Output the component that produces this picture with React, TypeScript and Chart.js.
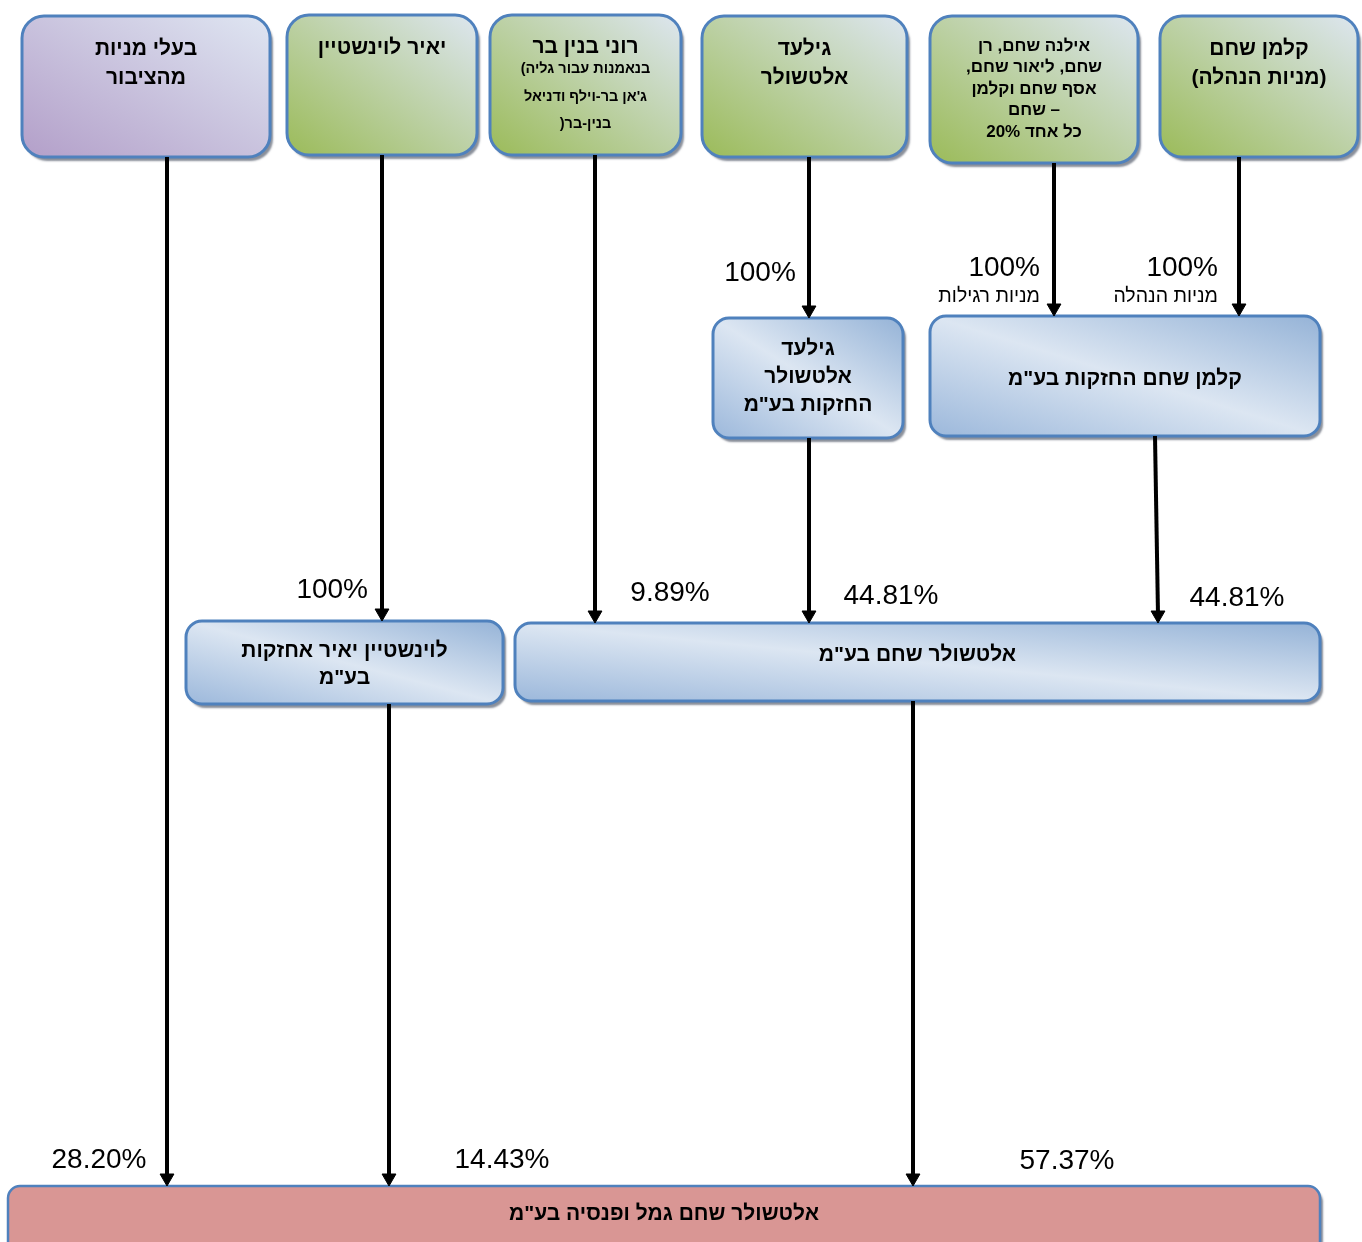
import React, { useEffect, useRef } from "react";
import { Chart, registerables } from "chart.js";

Chart.register(...registerables);

// ---------- diagram data ----------
// entity names (one array of lines per node)
const nodeNames: string[][] = [
  ["בעלי מניות", "מהציבור"],
  ["יאיר לוינשטיין"],
  ["רוני בנין בר", "בנאמנות עבור גליה)", "ג'אן בר-וילף ודניאל", "בנין-בר("],
  ["גילעד", "אלטשולר"],
  ["אילנה שחם, רן", "שחם, ליאור שחם,", "אסף שחם וקלמן", "– שחם", "כל אחד 20%"],
  ["קלמן שחם", "(מניות הנהלה)"],
  ["גילעד", "אלטשולר", 'החזקות בע"מ'],
  ['קלמן שחם החזקות בע"מ'],
  ["לוינשטיין יאיר אחזקות", 'בע"מ'],
  ['אלטשולר שחם בע"מ'],
  ['אלטשולר שחם גמל ופנסיה בע"מ'],
];
const nodeKind = ["public", "person", "person", "person", "person", "person", "company", "company", "company", "company", "target"];

// node extents in diagram units
const nodeLeft = [22, 287, 490, 702, 930, 1160, 713, 930, 186, 515, 8];
const nodeRight = [270, 477, 681, 907, 1138, 1358, 903, 1320, 503, 1320, 1320];
const nodeTop = [16, 15, 15, 16, 16, 16, 318, 316, 621, 623, 1186];
const nodeBottom = [157, 155, 155, 157, 163, 157, 438, 436, 704, 701, 1256];

// ownership links
const edgeFrom = [0, 1, 2, 3, 4, 5, 6, 7, 8, 9];
const edgeTo = [10, 8, 9, 6, 7, 7, 9, 9, 10, 10];
const edgeXStart = [167, 382, 595, 809, 1054, 1239, 809, 1155, 389, 913];
const edgeXEnd = [167, 382, 595, 809, 1054, 1239, 809, 1158, 389, 913];
const ownershipPct = ["28.20%", "100%", "9.89%", "100%", "100%", "100%", "44.81%", "44.81%", "14.43%", "57.37%"];
const shareClass = ["", "", "", "", "מניות רגילות", "מניות הנהלה", "", "", "", ""];

// ---------- presentation ----------
const pctLabelX = [99, 368, 670, 760, 1040, 1218, 891, 1237, 502, 1067];
const pctLabelY = [1160, 590, 593, 273, 268, 268, 596, 598, 1160, 1161];
const pctLabelAlign: CanvasTextAlign[] = ["center", "right", "center", "center", "right", "right", "center", "center", "center", "center"];
const nodeTextY = [49, 48, 47, 49, 46, 49, 349, 379, 651, 655, 1214];
const nodeLineGap = [29, 29, 0, 29, 21.5, 29, 28, 0, 27, 0, 0];
const roniLineY = [47, 69, 97, 124];
const FONT = '"Liberation Sans", Arial, sans-serif';
const ARROW_R = 8;

function nodeFontSize(i: number, line: number): number {
  if (i === 2) return line === 0 ? 21 : 14.5;
  if (i === 4) return 17;
  return 21;
}

const boxesPlugin = {
  id: "boxes",
  beforeDatasetsDraw(chart: any) {
    const { ctx } = chart;
    const xs = chart.scales.x;
    const ys = chart.scales.y;
    nodeNames.forEach((_, i) => {
      const x0 = xs.getPixelForValue(nodeLeft[i]);
      const x1 = xs.getPixelForValue(nodeRight[i]);
      const y0 = ys.getPixelForValue(nodeTop[i]);
      const y1 = ys.getPixelForValue(nodeBottom[i]);
      const w = x1 - x0;
      const h = y1 - y0;
      const kind = nodeKind[i];
      const r = kind === "company" ? 16 : kind === "target" ? 12 : 22;
      const cx = (x0 + x1) / 2;
      const cy = (y0 + y1) / 2;
      const len = Math.sqrt(w * w + h * h);
      const nx = h / len;
      const ny = -w / len;
      const L = (w * h) / len;
      let fill: any;
      if (kind === "target") {
        fill = "#d99694";
      } else {
        const g = ctx.createLinearGradient(cx + nx * L, cy + ny * L, cx - nx * L, cy - ny * L);
        if (kind === "public") {
          g.addColorStop(0, "#dfe6f2");
          g.addColorStop(1, "#b39fc9");
        } else if (kind === "person") {
          g.addColorStop(0, "#dde6f0");
          g.addColorStop(1, "#9bbb59");
        } else {
          g.addColorStop(0, "#95b3d7");
          g.addColorStop(0.5, "#dce6f2");
          g.addColorStop(1, "#9cb8db");
        }
        fill = g;
      }
      ctx.save();
      ctx.beginPath();
      ctx.roundRect(x0, y0, w, h, r);
      ctx.shadowColor = "rgba(40,50,70,0.55)";
      ctx.shadowOffsetX = 3;
      ctx.shadowOffsetY = 4;
      ctx.shadowBlur = 2;
      ctx.fillStyle = fill;
      ctx.fill();
      ctx.shadowColor = "transparent";
      ctx.lineWidth = kind === "target" ? 2.5 : 3;
      ctx.strokeStyle = "#4f81bd";
      ctx.stroke();
      ctx.restore();
    });
  },
  afterDatasetsDraw(chart: any) {
    const { ctx } = chart;
    const xs = chart.scales.x;
    const ys = chart.scales.y;
    ctx.save();
    ctx.fillStyle = "#000";
    ctx.textBaseline = "middle";
    // node texts
    nodeNames.forEach((lines, i) => {
      const cx = xs.getPixelForValue((nodeLeft[i] + nodeRight[i]) / 2);
      lines.forEach((t, k) => {
        const yv = i === 2 ? roniLineY[k] : nodeTextY[i] + k * nodeLineGap[i];
        ctx.font = `bold ${nodeFontSize(i, k)}px ${FONT}`;
        ctx.direction = "rtl";
        ctx.textAlign = "center";
        ctx.fillText(t, cx, ys.getPixelForValue(yv));
      });
    });
    // percentage labels
    ownershipPct.forEach((p, j) => {
      ctx.direction = "ltr";
      ctx.font = `28px ${FONT}`;
      ctx.textAlign = pctLabelAlign[j];
      ctx.fillText(p, xs.getPixelForValue(pctLabelX[j]), ys.getPixelForValue(pctLabelY[j]));
      if (shareClass[j]) {
        ctx.font = `19.5px ${FONT}`;
        ctx.direction = "ltr";
        ctx.textAlign = "right";
        ctx.fillText(shareClass[j], xs.getPixelForValue(pctLabelX[j]), ys.getPixelForValue(pctLabelY[j] + 29));
      }
    });
    ctx.restore();
  },
};

export default function App() {
  const ref = useRef<HTMLCanvasElement | null>(null);
  useEffect(() => {
    document.body.style.margin = "0";
    if (!ref.current) return;
    const datasets = edgeFrom.map((f, j) => ({
      data: [
        { x: edgeXStart[j], y: nodeBottom[f] },
        { x: edgeXEnd[j], y: nodeTop[edgeTo[j]] - ARROW_R },
      ],
      showLine: true,
      borderColor: "#000",
      borderWidth: 4,
      pointRadius: [0, ARROW_R],
      pointStyle: "triangle",
      pointRotation: 180,
      pointBackgroundColor: "#000",
      pointBorderColor: "#000",
      pointBorderWidth: 1,
      clip: false,
    }));
    const chart = new Chart(ref.current, {
      type: "scatter",
      data: { datasets: datasets as any },
      options: {
        animation: false,
        responsive: false,
        maintainAspectRatio: false,
        devicePixelRatio: 1,
        events: [],
        layout: { padding: 0, autoPadding: false },
        plugins: { legend: { display: false }, tooltip: { enabled: false } },
        scales: {
          x: { type: "linear", min: 0, max: 1362, display: false },
          y: { type: "linear", min: 0, max: 1242, reverse: true, display: false },
        },
      },
      plugins: [boxesPlugin],
    });
    return () => chart.destroy();
  }, []);
  return (
    <div style={{ position: "absolute", left: 0, top: 0, width: 1362, height: 1242, background: "#fff" }}>
      <canvas ref={ref} width={1362} height={1242} style={{ display: "block" }} />
    </div>
  );
}
